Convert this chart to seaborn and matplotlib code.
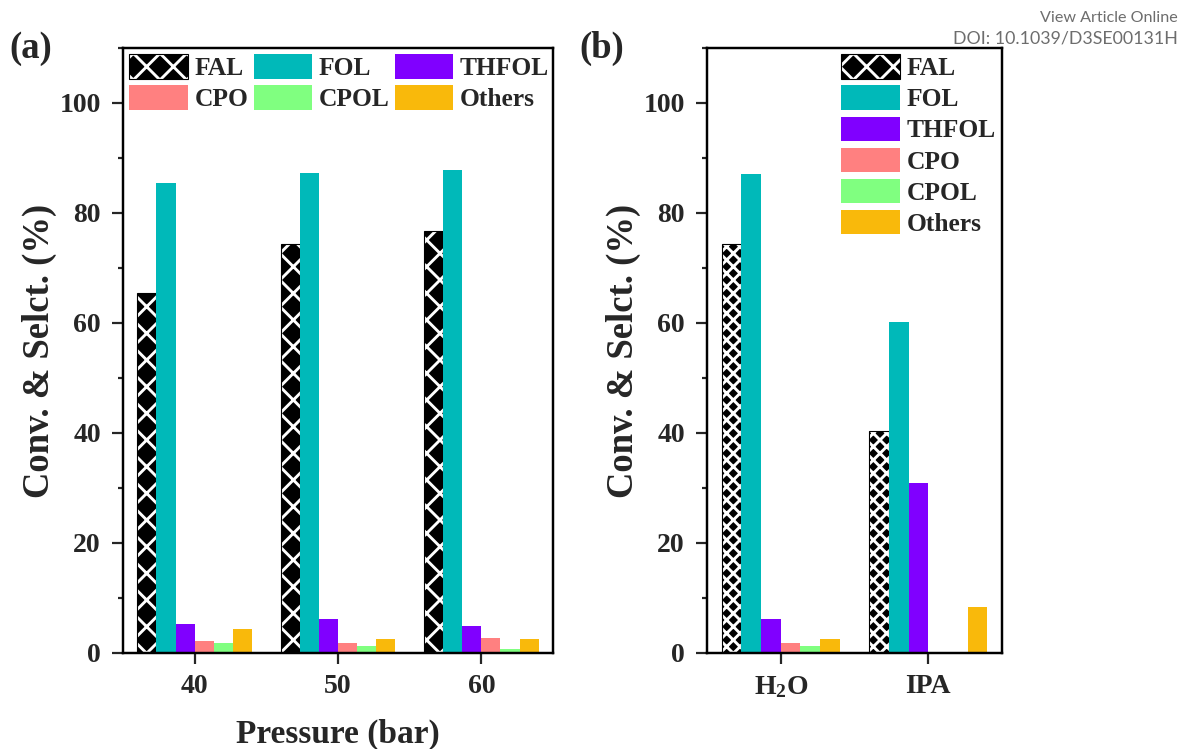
import matplotlib
matplotlib.use("Agg")
import matplotlib.pyplot as plt
import matplotlib.patches as mpatches
from matplotlib.ticker import MultipleLocator
import pandas as pd
import seaborn as sns

# ---------------- data ----------------
products = ["FAL", "FOL", "THFOL", "CPO", "CPOL", "Others"]
colors = ["#000000", "#00B9B9", "#8000FF", "#FF8080", "#80FF80", "#F9B90B"]

pressures = ["40", "50", "60"]
fal_a = [65.5, 74.3, 76.8]
fol_a = [85.4, 87.2, 87.9]
thfol_a = [5.2, 6.1, 4.9]
cpo_a = [2.1, 1.9, 2.8]
cpol_a = [1.9, 1.2, 0.8]
others_a = [4.3, 2.5, 2.6]

solvents = ["H$_2$O", "IPA"]
fal_b = [74.3, 40.4]
fol_b = [87.1, 60.1]
thfol_b = [6.2, 31.0]
cpo_b = [1.9, 0.0]
cpol_b = [1.3, 0.0]
others_b = [2.5, 8.3]

xlabel_a = "Pressure (bar)"
ylabel = "Conv. & Selct. (%)"


def long_df(cats, series):
    rows = []
    for prod, vals in zip(products, series):
        for c, v in zip(cats, vals):
            rows.append({"cat": c, "product": prod, "value": v})
    return pd.DataFrame(rows)


df_a = long_df(pressures, [fal_a, fol_a, thfol_a, cpo_a, cpol_a, others_a])
df_b = long_df(solvents, [fal_b, fol_b, thfol_b, cpo_b, cpol_b, others_b])

# ---------------- style ----------------
sns.set_style("ticks")
SERIF = ["Liberation Serif", "DejaVu Serif"]
plt.rcParams["font.family"] = SERIF
plt.rcParams["font.weight"] = "bold"
plt.rcParams["mathtext.fontset"] = "custom"
plt.rcParams["mathtext.rm"] = "Liberation Serif:bold"
plt.rcParams["mathtext.it"] = "Liberation Serif:bold"
plt.rcParams["mathtext.bf"] = "Liberation Serif:bold"
plt.rcParams["hatch.linewidth"] = 2.6
plt.rcParams["axes.linewidth"] = 2.0

DPI = 80
fig = plt.figure(figsize=(1181 / DPI, 749 / DPI), dpi=DPI)
W, H = 1181, 749
ax_a = fig.add_axes([123 / W, (H - 653) / H, (553 - 123) / W, (653 - 48) / H])
ax_b = fig.add_axes([707 / W, (H - 653) / H, (1002 - 707) / W, (653 - 48) / H])

palette = dict(zip(products, colors))


def hatch_patch(p, hatch):
    p.set_facecolor("black")
    p.set_edgecolor("black")
    p.set_hatch(hatch)
    p.set_linewidth(1.0)
    p._hatch_color = (1.0, 1.0, 1.0, 1.0)


def draw(ax, df, order, hatch):
    sns.barplot(data=df, x="cat", y="value", hue="product", order=order,
                hue_order=products, palette=palette, saturation=1,
                width=0.8, linewidth=0, legend=False, ax=ax)
    for p in ax.containers[0]:
        hatch_patch(p, hatch)
    ax.set_ylim(0, 110)
    ax.set_xlim(-0.5, len(order) - 0.5)
    ax.yaxis.set_major_locator(MultipleLocator(20))
    ax.yaxis.set_minor_locator(MultipleLocator(10))
    ax.tick_params(axis="both", which="major", direction="out", length=10,
                   width=2, labelsize=25)
    ax.tick_params(axis="x", which="major", pad=9)
    ax.tick_params(axis="y", which="major", pad=10)
    ax.tick_params(axis="y", which="minor", direction="out", length=4.5, width=2)
    ax.tick_params(top=False, right=False)
    for s in ax.spines.values():
        s.set_visible(True)
        s.set_linewidth(2.2)
        s.set_color("black")
    for t in ax.get_xticklabels() + ax.get_yticklabels():
        t.set_fontweight("bold")
    ax.set_ylabel(ylabel, fontsize=33, fontweight="bold", labelpad=2)


draw(ax_a, df_a, pressures, "x")
draw(ax_b, df_b, solvents, "xx")
ax_a.set_xlabel(xlabel_a, fontsize=30, fontweight="bold", labelpad=18)
ax_b.set_xlabel("")


def handles():
    hs = {}
    for prod, col in zip(products, colors):
        if prod == "FAL":
            h = mpatches.Patch(label=prod)
            hatch_patch(h, "x")
            hs[prod] = h
        else:
            hs[prod] = mpatches.Patch(facecolor=col, linewidth=0, label=prod)
    return hs


leg_kw = dict(frameon=False, handlelength=2.3, handleheight=1.1,
              handletextpad=0.25, labelspacing=0.2,
              prop={"family": SERIF, "weight": "bold", "size": 23})
ha = handles()
# row-wise order for 3 columns (matplotlib fills column by column)
order_a = ["FAL", "CPO", "FOL", "CPOL", "THFOL", "Others"]
ax_a.legend(handles=[ha[k] for k in order_a], ncol=3, loc="upper left",
            columnspacing=0.2, borderpad=0.2, borderaxespad=0.05, **leg_kw)
hb = handles()
ax_b.legend(handles=[hb[k] for k in products], ncol=1, loc="upper right",
            borderpad=0.2, borderaxespad=0.05, **leg_kw)

fig.text(31 / W, 1 - 48 / H, "(a)", fontsize=33, fontweight="bold",
         ha="center", va="center")
fig.text(602 / W, 1 - 48 / H, "(b)", fontsize=33, fontweight="bold",
         ha="center", va="center")

fig.text(1178 / W, 1 - 18 / H, "View Article Online", fontsize=14.5,
         family=["Lato", "DejaVu Sans"], color="#6d6d6d", ha="right",
         va="center", fontweight="normal")
fig.text(1178 / W, 1 - 39 / H, "DOI: 10.1039/D3SE00131H", fontsize=16,
         family=["Lato", "DejaVu Sans"], color="#6d6d6d", ha="right",
         va="center", fontweight="normal")

fig.savefig("out.png", dpi=DPI)
